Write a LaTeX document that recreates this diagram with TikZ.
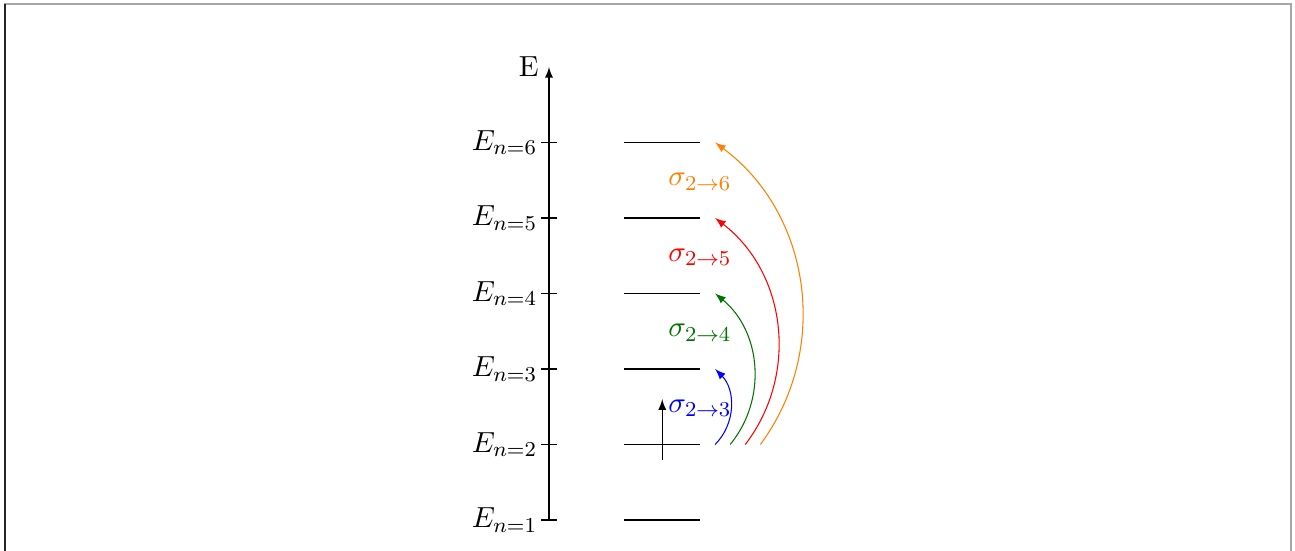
\documentclass[11pt,tikz,border=0pt]{standalone}
\usetikzlibrary{arrows}
\begin{document}
\begin{tikzpicture}[
  level/.style={line width=0.4pt},
  tick/.style={line width=0.4pt},
  trans/.style={-latex, bend right=45},
  lab/.style={anchor=east, inner sep=0pt}
]
\useasboundingbox (-7.2715,-0.4106) rectangle (9.8808,6.8874);
% frame
\draw[gray!70, line width=0.8pt] (-7.205,-0.5) coordinate (fbl) -- (-7.205,6.834) coordinate (ftl) -- (9.828,6.834) coordinate (ftr) -- (9.828,-0.5) coordinate (fbr);
\draw[black!85, line width=0.8pt] (fbl) -- (ftl);
% axis
\coordinate (o) at (0,0);
\coordinate (top) at (0,6);
\draw[-latex] (o) -- (top) node[left] (E) {E};
\foreach \k [evaluate=\k as \y using \k-1] in {1,...,6}{
  \draw[tick] (-0.1,\y) coordinate (tl\k) -- (0.1,\y) coordinate (tr\k);
  \node[lab] (L\k) at ([xshift=-0.05cm]tl\k) {$E_{n=\k}$};
  \draw[level] (1,\y) coordinate (a\k) -- (2,\y) coordinate (b\k);
}
% electron arrow
\coordinate (eb) at (1.5,0.8);
\coordinate (et) at (1.5,1.6);
\draw[-latex] (eb) -- (et);
% transitions
\coordinate (s3) at (2.2,1); \coordinate (t3) at (2.2,2);
\coordinate (s4) at (2.4,1); \coordinate (t4) at (2.2,3);
\coordinate (s5) at (2.6,1); \coordinate (t5) at (2.2,4);
\coordinate (s6) at (2.8,1); \coordinate (t6) at (2.2,5);
\draw[trans, blue] (s3) to (t3);
\draw[trans, green!45!black] (s4) to (t4);
\draw[trans, red] (s5) to (t5);
\draw[trans, orange] (s6) to (t6);
\node[blue] (l3) at (2.0,1.48) {$\sigma_{2\rightarrow3}$};
\node[green!45!black] (l4) at (2.0,2.48) {$\sigma_{2\rightarrow4}$};
\node[red] (l5) at (2.0,3.48) {$\sigma_{2\rightarrow5}$};
\node[orange] (l6) at (2.0,4.48) {$\sigma_{2\rightarrow6}$};
\end{tikzpicture}
\end{document}
